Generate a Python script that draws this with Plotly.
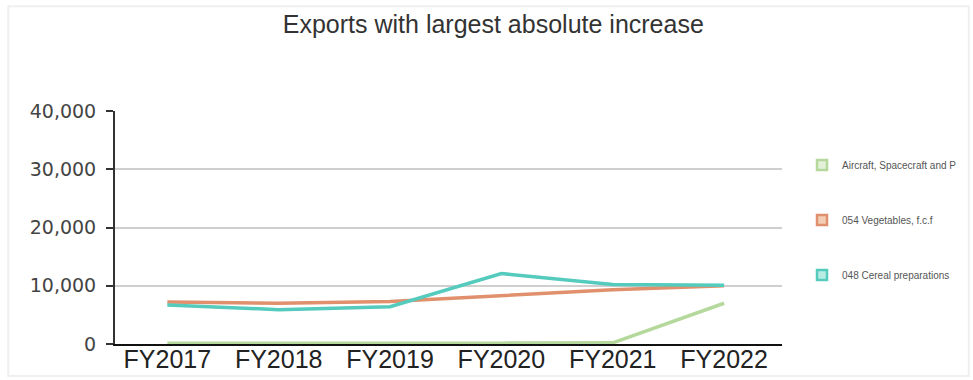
import plotly.graph_objects as go

years = ["FY2017", "FY2018", "FY2019", "FY2020", "FY2021", "FY2022"]
aircraft = [150, 100, 120, 150, 200, 7000]
vegetables = [7200, 7000, 7300, 8300, 9300, 10000]
cereal = [6700, 5900, 6400, 12100, 10200, 10100]

names = ["Aircraft, Spacecraft and P", "054 Vegetables, f.c.f", "048 Cereal preparations"]
series = [aircraft, vegetables, cereal]
line_colors = ["#b5d89c", "#e0906c", "#55cbbd"]
fill_colors = ["#e3f1d8", "#f4cdb5", "#b8ece4"]

fig = go.Figure()

for i, (name, vals, lc) in enumerate(zip(names, series, line_colors)):
    fig.add_trace(go.Scatter(
        x=years, y=vals, mode="lines", name=name,
        line=dict(color=lc, width=3.5),
        showlegend=False, hoverinfo="x+y",
    ))

# legend entries drawn as squares
for i, (name, lc, fc) in enumerate(zip(names, line_colors, fill_colors)):
    fig.add_trace(go.Scatter(
        x=[None], y=[None], mode="markers", name=name,
        marker=dict(symbol="square", size=10, color=fc, line=dict(color=lc, width=2.5)),
        legendgroup=f"g{i}", showlegend=True,
    ))

fig.update_layout(
    width=973, height=380,
    margin=dict(l=115, r=191, t=111, b=36, autoexpand=False),
    paper_bgcolor="white", plot_bgcolor="white",
    title=dict(
        text="Exports with largest absolute increase",
        x=0.507, xanchor="center", y=0.935, yanchor="middle",
        font=dict(family="Liberation Sans, Arial", size=25, color="#333333"),
    ),
    legend=dict(
        x=1.03, xanchor="left", y=0.83, yanchor="top",
        font=dict(family="Liberation Sans, Arial", size=10, color="#555555"),
        tracegroupgap=36, itemwidth=30,
        bgcolor="rgba(0,0,0,0)",
    ),
    xaxis=dict(
        type="category", range=[-0.47, 5.52], automargin=False,
        showline=True, linecolor="#111111", linewidth=2,
        showgrid=False, ticks="", zeroline=False,
        ticklabelstandoff=-8,
        tickfont=dict(family="Liberation Sans, Arial", size=25, color="#222222"),
    ),
    yaxis=dict(
        range=[0, 40000], tickvals=[0, 10000, 20000, 30000, 40000],
        tickformat=",", showline=True, linecolor="#333333", linewidth=2,
        automargin=False,
        ticks="outside", ticklen=7, tickcolor="#333333", tickwidth=1.5,
        ticklabelstandoff=6,
        showgrid=False, zeroline=False,
        minor=dict(tickvals=[10000, 20000, 30000], showgrid=True,
                   gridcolor="#cfcfcf", gridwidth=1.5, ticks=""),
        tickfont=dict(family="DejaVu Sans", size=19, color="#444444"),
    ),
    shapes=[dict(
        type="rect", xref="paper", yref="paper",
        x0=-0.16, x1=1.28, y0=-0.137, y1=1.45,
        line=dict(color="#efefef", width=2), layer="below",
    )],
)

fig.write_html("out.html")
